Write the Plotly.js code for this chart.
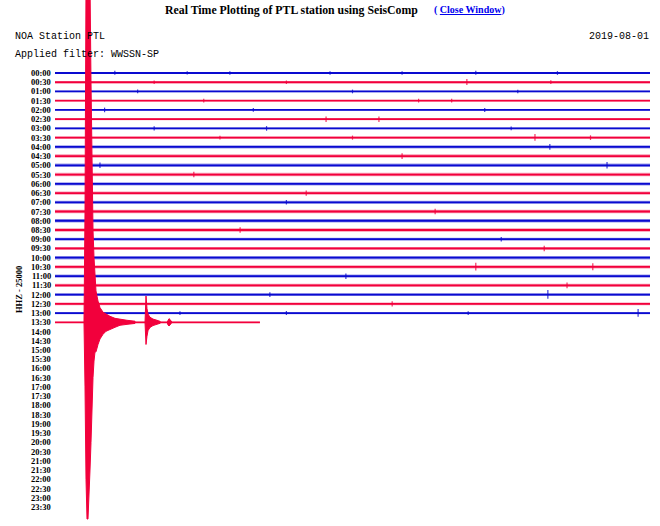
<!DOCTYPE html>
<html><head><meta charset="utf-8">
<script src="https://cdn.plot.ly/plotly-3.0.1.min.js"></script>
<style>html,body{margin:0;padding:0;background:#fff}#c{width:660px;height:526px}</style>
</head><body><div id="c"></div><script>
// ---- data ----
const rowLabels = ["00:00","00:30","01:00","01:30","02:00","02:30","03:00","03:30","04:00","04:30",
  "05:00","05:30","06:00","06:30","07:00","07:30","08:00","08:30","09:00","09:30",
  "10:00","10:30","11:00","11:30","12:00","12:30","13:00","13:30","14:00","14:30",
  "15:00","15:30","16:00","16:30","17:00","17:30","18:00","18:30","19:00","19:30",
  "20:00","20:30","21:00","21:30","22:00","22:30","23:00","23:30"];
// half-width of background noise per recorded row (trace-spacing units)
const rowNoise = [0.07,0.11,0.08,0.08,0.10,0.13,0.10,0.11,0.18,0.19,
  0.19,0.19,0.18,0.18,0.17,0.18,0.18,0.18,0.17,0.17,
  0.19,0.18,0.18,0.17,0.15,0.15,0.12,0.07];
const lastSampleSec = 620;      // data ends at 13:40:20
const rowSeconds = 1800;
// isolated blips: row index, second in row, up, down (trace-spacing units)
const spikeRow  = [0,0,0,0,1,7,7,8,10,10,21,21,23,24,24,26,26,5,3,14,18,
  0,0,0,1,1,1,2,2,2,3,3,4,4,4,5,6,6,6,7,7,9,11,13,15,17,19,22,25,26,26];
const spikeSec  = [181,529,832,1273,1246,1452,499,1497,136,1670,1273,1627,1549,1491,650,1764,378,980,1100,700,1350,
  400,1050,1520,300,700,1500,250,900,1400,450,1200,150,600,1300,820,300,640,1380,900,1620,1050,420,760,1150,560,1480,880,1020,700,1250];
const spikeUp   = [0.25,0.2,0.2,0.25,0.35,0.4,0.2,0.3,0.3,0.35,0.45,0.4,0.3,0.5,0.25,0.45,0.2,0.3,0.2,0.25,0.25,
  0.18,0.18,0.2,0.2,0.2,0.22,0.2,0.2,0.18,0.2,0.2,0.25,0.2,0.22,0.3,0.22,0.25,0.2,0.22,0.25,0.3,0.3,0.28,0.3,0.3,0.3,0.3,0.28,0.22,0.2];
const spikeDown = [0.2,0.2,0.2,0.2,0.3,0.35,0.2,0.3,0.3,0.35,0.4,0.35,0.3,0.45,0.25,0.4,0.2,0.3,0.2,0.25,0.25,
  0.15,0.18,0.2,0.2,0.2,0.2,0.2,0.2,0.18,0.2,0.2,0.25,0.2,0.22,0.3,0.22,0.25,0.2,0.22,0.25,0.3,0.3,0.28,0.3,0.3,0.3,0.3,0.28,0.22,0.2];
// main earthquake in row 13:30 (index 27): envelope
const eventRow = 27;
const mainSec  = [87.7,90.8,93.8,96.8,99.8,102.9,105.9,108.9,111.9,115.0,118.0,121.0,124.0,130.1,136.1,145.2,154.3,166.4,181.5,196.6,217.8,242.0];
const mainUp   = [0,12,36.8,36.8,36.8,36.8,36.8,26,15,10,7,5,3.4,2.3,1.6,1.1,0.87,0.65,0.43,0.32,0.22,0.12];
const mainDown = [0,7,17,21.3,21.3,20,16,13,11,6,4.2,3.2,3.2,2.4,1.8,1.3,0.97,0.76,0.54,0.32,0.22,0.12];
// second event
const secSec  = [272.3,275.3,278.3,281.4,287.4,296.5,308.6,318.2];
const secUp   = [0,2.85,1.5,0.9,0.55,0.35,0.22,0.1];
const secDown = [0,2.4,1.5,0.9,0.55,0.35,0.22,0.1];
// third small burst
const thrSec  = [339,342,345,348,351,354];
const thrUp   = [0,0.3,0.4,0.3,0.15,0];
const thrDown = [0,0.3,0.4,0.3,0.15,0];

// ---- styles ----
const BLUE = '#0a0ad0', RED = '#f2003c';
const colorOf = r => (r % 2 === 0 ? BLUE : RED);

const traces = [];
rowNoise.forEach((n, r) => {
  const end = r === eventRow ? lastSampleSec : rowSeconds;
  traces.push({x:[0,end,end,0,0], y:[r-n,r-n,r+n,r+n,r-n], fill:'toself', mode:'lines',
    line:{width:0, color:colorOf(r)}, fillcolor:colorOf(r), opacity:0.4, hoverinfo:'skip'});
});
rowNoise.forEach((n, r) => {
  const end = r === eventRow ? lastSampleSec : rowSeconds;
  traces.push({x:[0,end], y:[r,r], mode:'lines', line:{width:1.8, color:colorOf(r)}, hoverinfo:'skip'});
});
[0,1].forEach(par => {
  const xs = [], ys = [];
  spikeRow.forEach((r, i) => {
    if (r % 2 !== par) return;
    xs.push(spikeSec[i], spikeSec[i], null);
    ys.push(r - spikeUp[i], r + spikeDown[i], null);
  });
  traces.push({x:xs, y:ys, mode:'lines', line:{width:1.2, color: par ? RED : BLUE}, opacity:0.8, hoverinfo:'skip'});
});
function envelope(ts, up, dn) {
  const xs = [], ys = [];
  ts.forEach((t, i) => { xs.push(t); ys.push(eventRow - up[i]); });
  for (let i = ts.length - 1; i >= 0; i--) { xs.push(ts[i]); ys.push(eventRow + dn[i]); }
  xs.push(ts[0]); ys.push(eventRow - up[0]);
  return {x:xs, y:ys, mode:'lines', fill:'toself', fillcolor:RED, line:{width:1, color:RED}, hoverinfo:'skip'};
}
traces.push(envelope(mainSec, mainUp, mainDown));
traces.push(envelope(secSec, secUp, secDown));
traces.push(envelope(thrSec, thrUp, thrDown));

const W = 660, H = 526;
const pxPerSec = 595 / 1800, pxPerRow = (507 - 73) / 47;
const xr = [-55 / pxPerSec, 1800 + 10 / pxPerSec];
const yr = [(H - 73) / pxPerRow, -73 / pxPerRow];
const px = v => v / W, py = v => 1 - v / H;

const ann = [];
rowLabels.forEach((lab, r) => ann.push({text:lab, xref:'paper', yref:'y', x:px(53), y:r, xanchor:'right', yanchor:'middle',
  showarrow:false, font:{family:'Liberation Serif', size:8.5, color:'#000', weight:'bold'}}));
ann.push({text:'<b>Real Time Plotting of PTL station using SeisComp</b>', xref:'paper', yref:'paper', x:px(163), y:py(10),
  xanchor:'left', yanchor:'middle', showarrow:false, font:{family:'Liberation Serif', size:11.8, color:'#000'}});
ann.push({text:'<b>( <u>Close Window</u>)</b>', xref:'paper', yref:'paper', x:px(432), y:py(10),
  xanchor:'left', yanchor:'middle', showarrow:false, font:{family:'Liberation Serif', size:10, color:'#0000ee'}});
ann.push({text:'NOA Station PTL', xref:'paper', yref:'paper', x:px(13), y:py(37), xanchor:'left', yanchor:'middle',
  showarrow:false, font:{family:'Liberation Mono', size:10, color:'#000'}});
ann.push({text:'2019-08-01', xref:'paper', yref:'paper', x:px(651), y:py(37), xanchor:'right', yanchor:'middle',
  showarrow:false, font:{family:'Liberation Mono', size:10, color:'#000'}});
ann.push({text:'Applied filter: WWSSN-SP', xref:'paper', yref:'paper', x:px(13), y:py(55), xanchor:'left', yanchor:'middle',
  showarrow:false, font:{family:'Liberation Mono', size:10, color:'#000'}});
ann.push({text:'HHZ - 25000', xref:'paper', yref:'paper', x:px(19), y:py(290), xanchor:'center', yanchor:'middle',
  textangle:-90, showarrow:false, font:{family:'Liberation Serif', size:8.5, color:'#000', weight:'bold'}});

Plotly.newPlot('c', traces, {
  width:W, height:H, margin:{l:0,r:0,t:0,b:0}, showlegend:false,
  paper_bgcolor:'#fff', plot_bgcolor:'#fff',
  xaxis:{range:xr, visible:false, fixedrange:true},
  yaxis:{range:yr, visible:false, fixedrange:true},
  annotations:ann
}, {staticPlot:true});
</script></body></html>
